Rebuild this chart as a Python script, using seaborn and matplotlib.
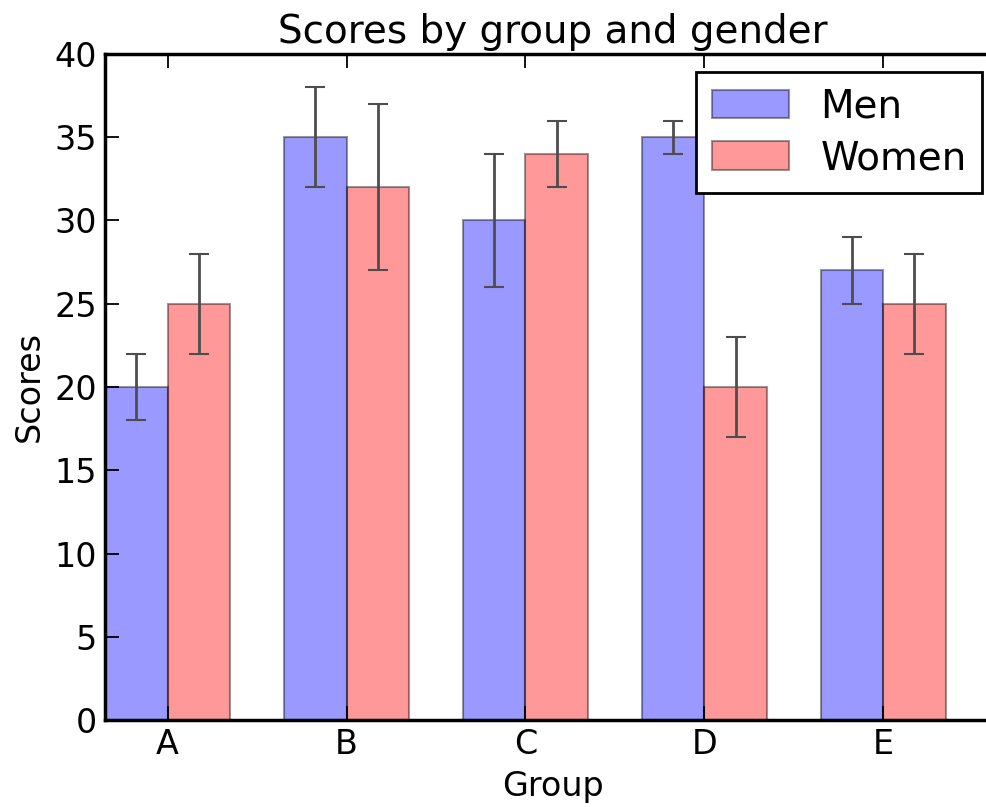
import matplotlib
matplotlib.use('Agg')
import matplotlib.pyplot as plt
import seaborn as sns
import pandas as pd

groups = ['A', 'B', 'C', 'D', 'E']
means_men = [20, 35, 30, 35, 27]
std_men = [2, 3, 4, 1, 2]
means_women = [25, 32, 34, 20, 25]
std_women = [3, 5, 2, 3, 3]
genders = ['Men', 'Women']

df = pd.DataFrame({
    'group': groups * 2,
    'score': means_men + means_women,
    'gender': [genders[0]] * len(groups) + [genders[1]] * len(groups),
})
errors = {'Men': std_men, 'Women': std_women}

plt.rcParams['font.family'] = ['DejaVu Sans']

fig = plt.figure(figsize=(9.87, 8.07), dpi=100)
# axes runs a bit past the right edge, like the cropped original
ax = fig.add_axes([0.1064, 0.1078, 0.908, 0.8253])

sns.barplot(data=df, x='group', y='score', hue='gender',
            palette=['b', 'r'], saturation=1, alpha=0.4,
            edgecolor='k', linewidth=1.5, width=0.7,
            errorbar=None, ax=ax)

# error bars at the centre of each bar
for cont, g in zip(ax.containers, genders):
    xs = [p.get_x() + p.get_width() / 2 for p in cont.patches]
    ys = [p.get_height() for p in cont.patches]
    ax.errorbar(xs, ys, yerr=errors[g], fmt='none', ecolor='0.3',
                elinewidth=2, capsize=7, capthick=1.5)

ax.set_xlim(-0.35, 4.66)
ax.set_ylim(0, 40)
ax.set_yticks(range(0, 41, 5))
ax.set_title('Scores by group and gender', fontsize=28, pad=8)
ax.set_xlabel('Group', fontsize=24, labelpad=6)
ax.set_ylabel('Scores', fontsize=24, labelpad=6)
ax.tick_params(direction='in', top=True, right=True, length=10, width=1.3,
               labelsize=24, pad=6)
for s in ax.spines.values():
    s.set_linewidth(2.5)
    s.set_color('k')

leg = ax.legend(loc='upper right', bbox_to_anchor=(0.979, 0.973),
                fontsize=28, fancybox=False, framealpha=1,
                handlelength=2.0, handleheight=0.75, borderpad=0.4,
                labelspacing=0.35, handletextpad=0.8, borderaxespad=0)
leg.get_frame().set_edgecolor('k')
leg.get_frame().set_linewidth(2)

fig.savefig('out.png', dpi=100)
